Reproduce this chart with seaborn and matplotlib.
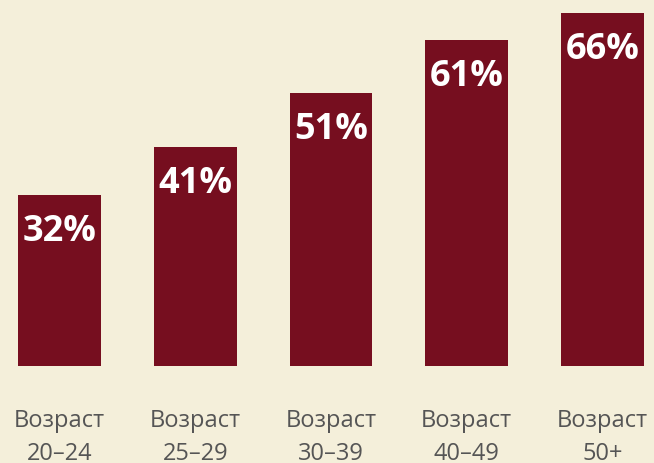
import pandas as pd
import matplotlib
matplotlib.use('Agg')
import matplotlib.pyplot as plt
import seaborn as sns

groups = ['Возраст\n20–24', 'Возраст\n25–29', 'Возраст\n30–39', 'Возраст\n40–49', 'Возраст\n50+']
shares = [32, 41, 51, 61, 66]

bg = '#F4EFDA'
bar_color = '#760E1F'

sns.set_style('white')
plt.rcParams['font.family'] = ['Open Sans', 'DejaVu Sans']

data = pd.DataFrame({'group': groups, 'share': shares})

fig = plt.figure(figsize=(6.54, 4.64), dpi=100, facecolor=bg)
ax = fig.add_axes([18 / 654, 97 / 464, 626 / 654, 353 / 464])
ax.set_facecolor(bg)

sns.barplot(data=data, x='group', y='share', color=bar_color, saturation=1,
            width=0.61, linewidth=0, ax=ax)
ax.set_xlim(-0.305, 4.305)
ax.set_ylim(0, 66)

for i, v in enumerate(shares):
    ax.annotate('{}%'.format(v), (i, v), xytext=(0, -13), textcoords='offset points',
                ha='center', va='top', color='white', fontsize=26, fontweight='bold')

ax.set_xlabel('')
ax.set_ylabel('')
ax.set_yticks([])
ax.tick_params(axis='x', length=0, pad=30, labelsize=17, labelcolor='#555555')
for lab in ax.get_xticklabels():
    lab.set_linespacing(1.5)
sns.despine(ax=ax, left=True, bottom=True)

fig.savefig('out.png', dpi=100, facecolor=bg)
